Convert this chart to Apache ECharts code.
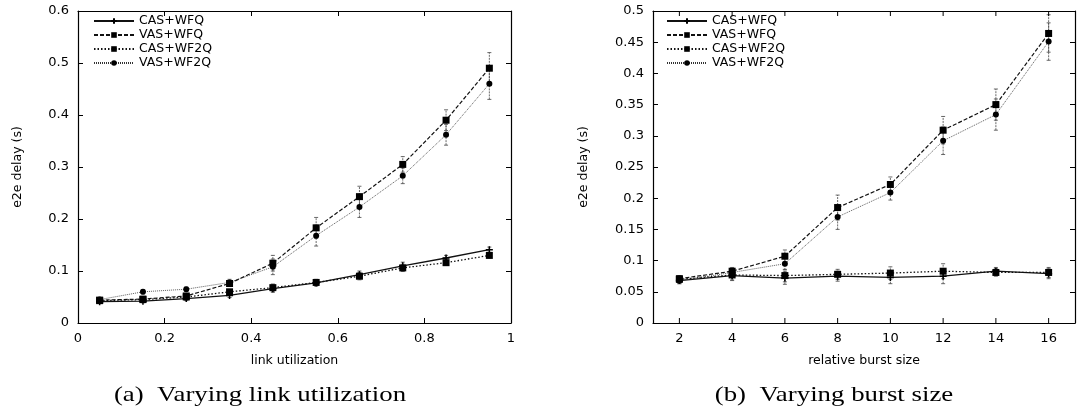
<!DOCTYPE html>
<html>
<head>
<meta charset="utf-8">
<script src="https://cdn.jsdelivr.net/npm/echarts@6/dist/echarts.min.js"></script>
<style>
html,body{margin:0;padding:0;background:#fff;}
#c{width:1078px;height:415px;}
</style>
</head>
<body>
<div id="c"></div>
<script>
// ---------- data ----------
const seriesNames = ['CAS+WFQ', 'VAS+WFQ', 'CAS+WF2Q', 'VAS+WF2Q'];

// (a) link utilization
const utilX = [0.05, 0.15, 0.25, 0.35, 0.45, 0.55, 0.65, 0.75, 0.85, 0.95];
const utilCasWfq  = [0.041, 0.042, 0.047, 0.053, 0.066, 0.077, 0.093, 0.110, 0.125, 0.141];
const utilVasWfq  = [0.044, 0.046, 0.052, 0.076, 0.115, 0.183, 0.243, 0.305, 0.390, 0.490];
const utilCasWf2q = [0.043, 0.045, 0.050, 0.060, 0.068, 0.078, 0.090, 0.106, 0.116, 0.130];
const utilVasWf2q = [0.045, 0.060, 0.065, 0.078, 0.108, 0.168, 0.223, 0.283, 0.362, 0.460];
const utilErrCas  = [0.003, 0.003, 0.004, 0.004, 0.007, 0.006, 0.007, 0.007, 0.005, 0.005];
const utilErrVas  = [0.003, 0.004, 0.004, 0.006, 0.015, 0.020, 0.020, 0.015, 0.020, 0.030];

// (b) relative burst size
const burstX = [2, 4, 6, 8, 10, 12, 14, 16];
const burstCasWfq  = [0.068, 0.076, 0.072, 0.075, 0.073, 0.075, 0.083, 0.079];
const burstVasWfq  = [0.071, 0.083, 0.107, 0.185, 0.222, 0.309, 0.350, 0.464];
const burstCasWf2q = [0.070, 0.077, 0.076, 0.078, 0.080, 0.083, 0.081, 0.081];
const burstVasWf2q = [0.068, 0.081, 0.095, 0.170, 0.209, 0.292, 0.334, 0.451];
const burstErrCas  = [0.005, 0.008, 0.010, 0.008, 0.010, 0.012, 0.006, 0.008];
const burstErrVas  = [0.005, 0.006, 0.010, 0.020, 0.012, 0.022, 0.025, 0.030];

const burstTicks = [2, 4, 6, 8, 10, 12, 14, 16];
const captions = ['(a)  Varying link utilization', '(b)  Varying burst size'];

// ---------- styling ----------
const SANS = '"DejaVu Sans", Arial, sans-serif';
const SERIF = '"Liberation Serif", "Times New Roman", serif';
const styles = {
  'CAS+WFQ':  {type: 'solid',  width: 1.3, color: '#111', symbol: 'path://M-1,0H1M0,-1V1', symbolSize: 7},
  'VAS+WFQ':  {type: [4, 2],   width: 1.2, color: '#111', symbol: 'rect', symbolSize: 7},
  'CAS+WF2Q': {type: [1.5, 2], width: 1.3, color: '#111', symbol: 'rect', symbolSize: 7},
  'VAS+WF2Q': {type: [1, 1],   width: 0.8, color: '#333', symbol: 'circle', symbolSize: 6}
};

function lineSeries(name, xs, ys, gi) {
  const s = styles[name];
  return {
    name: name, type: 'line', xAxisIndex: gi * 2, yAxisIndex: gi * 2,
    data: xs.map((x, i) => [x, ys[i]]),
    symbol: s.symbol, symbolSize: s.symbolSize, showSymbol: true,
    lineStyle: {type: s.type, width: s.width, color: s.color},
    itemStyle: {color: '#000', borderColor: '#000', borderWidth: name === 'CAS+WFQ' ? 1.5 : 0},
    animation: false, z: 3
  };
}

function errSeries(xs, ys, errs, gi) {
  return {
    type: 'custom', xAxisIndex: gi * 2, yAxisIndex: gi * 2,
    data: xs.map((x, i) => [x, ys[i] - errs[i], ys[i] + errs[i]]),
    renderItem: function (params, api) {
      const lo = api.coord([api.value(0), api.value(1)]);
      const hi = api.coord([api.value(0), api.value(2)]);
      const w = 2;
      const st = {stroke: '#444', lineWidth: 0.8, lineDash: [2, 1]};
      return {type: 'group', children: [
        {type: 'line', shape: {x1: lo[0], y1: lo[1], x2: hi[0], y2: hi[1]}, style: st},
        {type: 'line', shape: {x1: lo[0] - w, y1: lo[1], x2: lo[0] + w, y2: lo[1]}, style: {stroke: '#444', lineWidth: 0.8}},
        {type: 'line', shape: {x1: hi[0] - w, y1: hi[1], x2: hi[0] + w, y2: hi[1]}, style: {stroke: '#444', lineWidth: 0.8}}
      ]};
    },
    silent: true, animation: false, z: 2
  };
}

// tick marks at the even burst sizes (bottom and mirrored top), placed through the axis scale
function tickSeries(ticks, yMin, yMax, gi) {
  return {
    type: 'custom', xAxisIndex: gi * 2, yAxisIndex: gi * 2,
    data: ticks.map(t => [t, yMin, yMax]),
    clip: false,
    renderItem: function (params, api) {
      const b = api.coord([api.value(0), api.value(1)]);
      const t = api.coord([api.value(0), api.value(2)]);
      const st = {stroke: '#000', lineWidth: 1};
      return {type: 'group', children: [
        {type: 'line', shape: {x1: b[0], y1: b[1], x2: b[0], y2: b[1] - 5}, style: st},
        {type: 'line', shape: {x1: t[0], y1: t[1], x2: t[0], y2: t[1] + 5}, style: st}
      ]};
    },
    silent: true, animation: false, z: 4
  };
}

const axisLine = {show: true, onZero: false, lineStyle: {color: '#000', width: 1.2}};
const tickIn = {show: true, inside: true, length: 5, lineStyle: {color: '#000', width: 1}};
const lab = {color: '#000', fontFamily: SANS, fontSize: 13};
const nameStyle = {color: '#000', fontFamily: SANS, fontSize: 12.5};

function xAxes(gi, min, max, interval, name, labelFn, showTicks) {
  const t = showTicks ? tickIn : {show: false};
  return [
    {type: 'value', gridIndex: gi, min: min, max: max, interval: interval, position: 'bottom',
     axisLine: axisLine, axisTick: t, splitLine: {show: false},
     axisLabel: Object.assign({margin: 9, formatter: labelFn}, lab),
     name: name, nameLocation: 'middle', nameGap: 31, nameTextStyle: nameStyle},
    {type: 'value', gridIndex: gi, min: min, max: max, interval: interval, position: 'top',
     axisLine: axisLine, axisTick: t, axisLabel: {show: false}, splitLine: {show: false}}
  ];
}
function yAxes(gi, min, max, interval, gap, labelFn) {
  return [
    {type: 'value', gridIndex: gi, min: min, max: max, interval: interval, position: 'left',
     axisLine: axisLine, axisTick: tickIn, splitLine: {show: false},
     axisLabel: Object.assign({margin: 9, formatter: labelFn}, lab),
     name: 'e2e delay (s)', nameLocation: 'middle', nameGap: gap, nameRotate: 90, nameTextStyle: nameStyle},
    {type: 'value', gridIndex: gi, min: min, max: max, interval: interval, position: 'right',
     axisLine: axisLine, axisTick: tickIn, axisLabel: {show: false}, splitLine: {show: false}}
  ];
}

const fmt = v => String(+v.toFixed(2));

const xa = xAxes(0, 0, 1, 0.2, 'link utilization', fmt, true)
  .concat(xAxes(1, 1, 17, 1, 'relative burst size',
    v => (burstTicks.indexOf(v) >= 0 ? String(v) : ''), false));
const ya = yAxes(0, 0, 0.6, 0.1, 54, fmt).concat(yAxes(1, 0, 0.5, 0.05, 63, fmt));

const series = [
  lineSeries('CAS+WFQ', utilX, utilCasWfq, 0),
  lineSeries('VAS+WFQ', utilX, utilVasWfq, 0),
  lineSeries('CAS+WF2Q', utilX, utilCasWf2q, 0),
  lineSeries('VAS+WF2Q', utilX, utilVasWf2q, 0),
  errSeries(utilX, utilCasWfq, utilErrCas, 0),
  errSeries(utilX, utilVasWfq, utilErrVas, 0),
  errSeries(utilX, utilCasWf2q, utilErrCas, 0),
  errSeries(utilX, utilVasWf2q, utilErrVas, 0),
  lineSeries('CAS+WFQ', burstX, burstCasWfq, 1),
  lineSeries('VAS+WFQ', burstX, burstVasWfq, 1),
  lineSeries('CAS+WF2Q', burstX, burstCasWf2q, 1),
  lineSeries('VAS+WF2Q', burstX, burstVasWf2q, 1),
  errSeries(burstX, burstCasWfq, burstErrCas, 1),
  errSeries(burstX, burstVasWfq, burstErrVas, 1),
  errSeries(burstX, burstCasWf2q, burstErrCas, 1),
  errSeries(burstX, burstVasWf2q, burstErrVas, 1),
  tickSeries(burstTicks, 0, 0.5, 1)
];

function legend(left) {
  return {
    data: seriesNames, left: left, top: 9, orient: 'vertical',
    itemWidth: 40, itemHeight: 7, itemGap: 0, selectedMode: false,
    textStyle: {color: '#000', fontFamily: SANS, fontSize: 12.5, lineHeight: 14}
  };
}

function caption(text, cx) {
  return {
    type: 'text', x: cx, y: 395, scaleX: 1.22, silent: true,
    style: {text: text, font: '22px ' + SERIF, fill: '#000', align: 'center', verticalAlign: 'middle'}
  };
}

const option = {
  backgroundColor: '#fff',
  animation: false,
  grid: [
    {left: 78, right: 567, top: 11, bottom: 92},
    {left: 653, right: -2, top: 11, bottom: 92}
  ],
  xAxis: xa,
  yAxis: ya,
  legend: [legend(88), legend(661)],
  graphic: [caption(captions[0], 260), caption(captions[1], 834)],
  series: series
};

const chart = echarts.init(document.getElementById('c'), null, {renderer: 'canvas'});
chart.setOption(option);
</script>
</body>
</html>
